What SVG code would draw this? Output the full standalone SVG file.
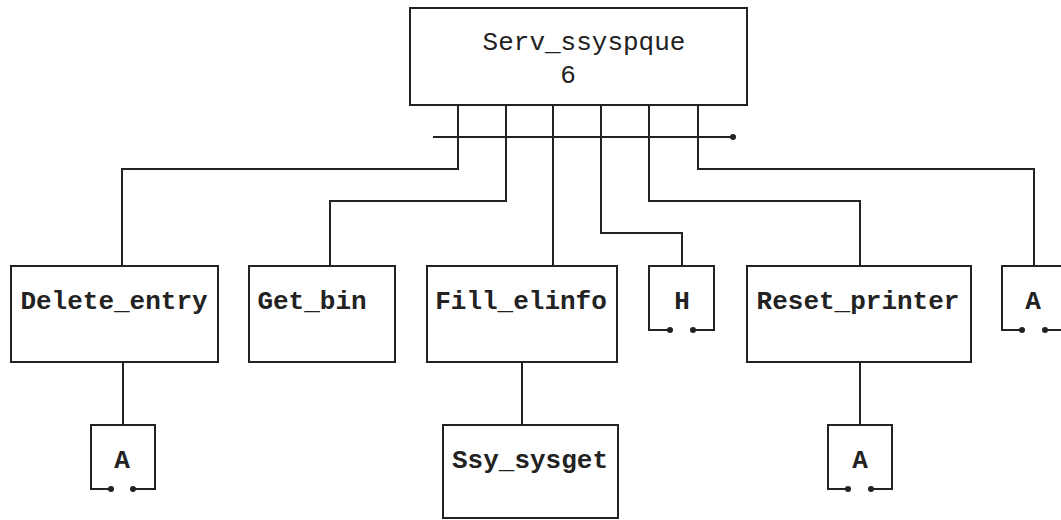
<svg xmlns="http://www.w3.org/2000/svg" width="1061" height="520" viewBox="0 0 1061 520">
<style>
.box{fill:#fff;stroke:#222;stroke-width:2}
.ln{fill:none;stroke:#222;stroke-width:2}
.t{font-family:"Liberation Mono",monospace;font-size:26px;font-weight:bold;fill:#222;text-anchor:middle}
.tn{font-family:"Liberation Mono",monospace;font-size:26px;fill:#222;text-anchor:middle}
.dot{fill:#222}
</style>
<rect width="1061" height="520" fill="#fff"/>
<g id="connectors">
<path class="ln" d="M458 105 V169 H122 V266"/>
<path class="ln" d="M506 105 V201 H330 V266"/>
<path class="ln" d="M553 105 V266"/>
<path class="ln" d="M601 105 V233 H682 V266"/>
<path class="ln" d="M649 105 V201 H860 V266"/>
<path class="ln" d="M698 105 V169 H1034 V266"/>
<path class="ln" d="M433 137 H733"/>
<circle class="dot" cx="733" cy="137" r="3"/>
<path class="ln" d="M123 362 V425"/>
<path class="ln" d="M522 362 V425"/>
<path class="ln" d="M860 362 V425"/>
</g>
<g id="serv">
<rect class="box" x="410" y="8" width="337" height="97"/>
<text class="tn" x="584" y="50">Serv_ssyspque</text>
<text class="tn" x="568" y="83">6</text>
</g>
<g id="delete_entry">
<rect class="box" x="11" y="266" width="207" height="96"/>
<text class="t" x="114" y="309">Delete_entry</text>
</g>
<g id="get_bin">
<rect class="box" x="249" y="266" width="146" height="96"/>
<text class="t" x="312" y="309">Get_bin</text>
</g>
<g id="fill_elinfo">
<rect class="box" x="427" y="266" width="190" height="96"/>
<text class="t" x="521" y="309">Fill_elinfo</text>
</g>
<g id="h">
<path class="ln" d="M670 330 H649 V266 H714 V330 H693"/>
<circle class="dot" cx="670" cy="330" r="3"/>
<circle class="dot" cx="693" cy="330" r="3"/>
<text class="t" x="682" y="309">H</text>
</g>
<g id="reset_printer">
<rect class="box" x="747" y="266" width="224" height="96"/>
<text class="t" x="858" y="309">Reset_printer</text>
</g>
<g id="a_right">
<path class="ln" d="M1022 330 H1002 V266 H1066 V330 H1045"/>
<circle class="dot" cx="1022" cy="330" r="3"/>
<circle class="dot" cx="1045" cy="330" r="3"/>
<text class="t" x="1033" y="309">A</text>
</g>
<g id="a_delete">
<path class="ln" d="M111 489 H91 V425 H155 V489 H133"/>
<circle class="dot" cx="111" cy="489" r="3"/>
<circle class="dot" cx="133" cy="489" r="3"/>
<text class="t" x="122" y="468">A</text>
</g>
<g id="ssy_sysget">
<rect class="box" x="443" y="425" width="175" height="93"/>
<text class="t" x="530" y="468">Ssy_sysget</text>
</g>
<g id="a_reset">
<path class="ln" d="M848 489 H828 V425 H892 V489 H871"/>
<circle class="dot" cx="848" cy="489" r="3"/>
<circle class="dot" cx="871" cy="489" r="3"/>
<text class="t" x="860" y="468">A</text>
</g>
</svg>
